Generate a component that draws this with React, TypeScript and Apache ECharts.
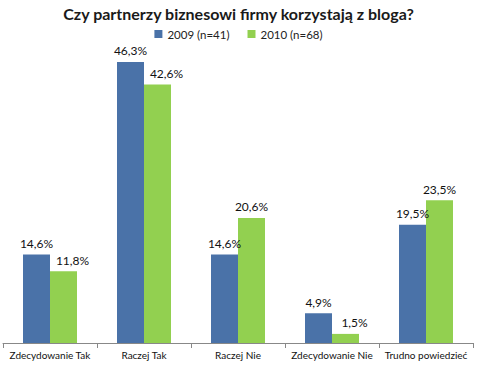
import React, { useEffect, useRef } from "react";
import * as echarts from "echarts";

const categories = ["Zdecydowanie Tak", "Raczej Tak", "Raczej Nie", "Zdecydowanie Nie", "Trudno powiedzieć"];
const series2009 = [14.6, 46.3, 14.6, 4.9, 19.5];
const series2010 = [11.8, 42.6, 20.6, 1.5, 23.5];
const seriesNames = ["2009 (n=41)", "2010 (n=68)"];
const titleText = "Czy partnerzy biznesowi firmy korzystają z bloga?";

export default function App() {
  const ref = useRef<HTMLDivElement>(null);
  useEffect(() => {
    if (!ref.current) return;
    const chart = echarts.init(ref.current, null, { renderer: "svg" });
    const fmt = (p: any) => Number(p.value).toFixed(1).replace(".", ",") + "%";
    const font = "Lato, 'Open Sans', 'Liberation Sans', sans-serif";
    const labelStyle = { show: true, position: "top", formatter: fmt, fontSize: 12, color: "#111", fontFamily: font, distance: 5 };
    const greenData = series2010.map((v, i) => {
      const b = series2009[i];
      const overlap = v < b && b - v < 5;
      return overlap ? { value: v, label: { offset: [9, 0] } } : v;
    });
    chart.setOption({
      animation: false,
      backgroundColor: "#ffffff",
      title: {
        text: titleText,
        left: "center",
        top: 0,
        textStyle: { fontSize: 16, fontWeight: "bold", color: "#1a1a1a", fontFamily: font },
      },
      legend: {
        top: 23,
        left: "center",
        itemWidth: 8,
        itemHeight: 8,
        itemGap: 18,
        icon: "rect",
        textStyle: { fontSize: 11.5, color: "#222", fontFamily: font },
        data: seriesNames,
      },
      grid: { left: 3, right: 4, top: 39.5, bottom: 22, containLabel: false },
      xAxis: {
        type: "category",
        data: categories,
        axisLine: { lineStyle: { color: "#888", width: 1 } },
        axisTick: { show: true, length: 5, lineStyle: { color: "#888" } },
        axisLabel: { fontSize: 10, color: "#111", fontFamily: font, margin: 7, interval: 0 },
      },
      yAxis: {
        type: "value",
        min: 0,
        max: 50,
        show: false,
        splitLine: { show: false },
      },
      series: [
        {
          name: seriesNames[0],
          type: "bar",
          data: series2009,
          barWidth: 27,
          barGap: "0%",
          itemStyle: { color: "#4a72a8" },
          label: labelStyle,
        },
        {
          name: seriesNames[1],
          type: "bar",
          data: greenData,
          barWidth: 27,
          itemStyle: { color: "#92d050" },
          label: labelStyle,
        },
      ],
    });
    return () => chart.dispose();
  }, []);
  return <div ref={ref} style={{ width: 477, height: 365, position: "absolute", left: 0, top: 0 }} />;
}
